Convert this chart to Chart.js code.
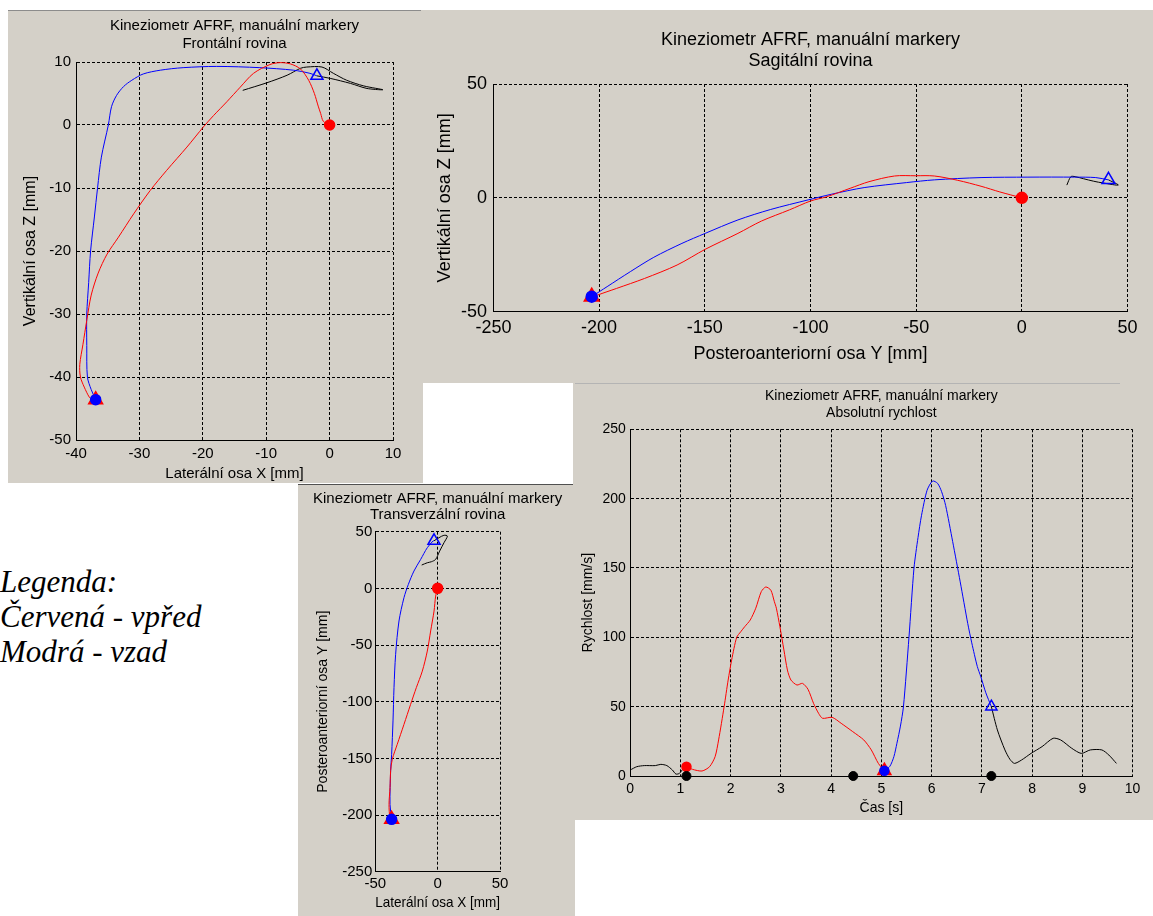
<!DOCTYPE html>
<html><head><meta charset="utf-8">
<script src="https://cdn.jsdelivr.net/npm/chart.js@4.4.0/dist/chart.umd.min.js"></script>
<style>
html,body{margin:0;padding:0;background:#fff;}
body{width:1153px;height:916px;overflow:hidden;position:relative;}
.panel{position:absolute;background:#d4d0c8;}
.panel canvas{position:absolute;left:0;top:0;}
.hline{position:absolute;height:1px;}
#legend{position:absolute;left:0;top:564px;font:italic 31px 'Liberation Serif','Times New Roman',serif;line-height:35px;color:#000;white-space:nowrap;}
</style></head>
<body>
<div class="panel" style="left:8px;top:10px;width:415px;height:473px"><canvas id="c1" width="415" height="473"></canvas></div>
<div class="panel" style="left:420px;top:10px;width:733px;height:373px"><canvas id="c2" width="733" height="373"></canvas></div>
<div class="panel" style="left:573px;top:383px;width:580px;height:437px"><canvas id="c4" width="580" height="437"></canvas></div>
<div class="panel" style="left:298px;top:484px;width:277px;height:432px"><canvas id="c3" width="277" height="432"></canvas></div>
<div class="hline" style="left:8px;top:10px;width:413px;background:#8c8c8c"></div>
<div class="hline" style="left:298px;top:484px;width:275px;background:#505050"></div>
<div class="hline" style="left:575px;top:383px;width:545px;background:#b4b4b4"></div>
<div id="legend">Legenda:<br>Červená - vpřed<br>Modrá - vzad</div>
<script>
// ---------- Frontal plane (X lateral, Z vertical) ----------
const frXTicks = [-40, -30, -20, -10, 0, 10];
const frZTicks = [-50, -40, -30, -20, -10, 0, 10];
const frRedX = [0, -1.0, -1.4, -1.8, -2.4, -3.3, -4.6, -6.2, -7.8, -9.4, -12.0, -14.1, -16.2, -18.3, -19.9, -22.5, -25.7, -28.3, -30.9, -33.3, -35.1, -36.5, -37.6, -38.3, -38.9, -39.4, -39.3, -38.7, -37.9, -37.3];
const frRedZ = [0, 0.6, 1.8, 3.0, 5.0, 7.1, 8.9, 9.7, 9.9, 9.6, 8.2, 6.0, 3.7, 1.5, -0.3, -3.5, -7.2, -10.4, -14.1, -17.8, -20.5, -23.5, -27.0, -31.0, -34.8, -38.0, -40.0, -41.6, -43.2, -43.8];
const frBlueX = [-36.9, -37.6, -38.2, -38.3, -38.3, -38.0, -37.7, -37.1, -36.6, -36.0, -34.9, -34.4, -33.6, -32.5, -31.2, -29.4, -26.7, -23.1, -17.8, -11.0, -5.7, -3.1, -2.0];
const frBlueZ = [-43.6, -42.0, -40.0, -35.0, -30.0, -25.0, -20.0, -14.6, -10.0, -5.1, 0, 2.9, 4.7, 6.1, 7.1, 8.1, 8.7, 9.1, 9.3, 9.1, 8.7, 8.2, 7.8];
const frBlackX = [-2.0, 0.1, 3.3, 5.9, 8.4, 5.4, 2.7, 0.6, -1.2, -3.6, -4.6, -6.7, -9.9, -13.7];
const frBlackZ = [7.8, 7.4, 6.6, 5.8, 5.6, 6.2, 7.1, 8.2, 9.2, 9.2, 9.0, 7.9, 6.7, 5.5];
const frStart = [0, 0], frTurn = [-36.9, -43.6], frEnd = [-2.0, 7.8];

// ---------- Sagittal plane (Y posteroanterior, Z vertical) ----------
const sgYTicks = [-250, -200, -150, -100, -50, 0, 50];
const sgZTicks = [-50, 0, 50];
const sgRedY = [0, -10.4, -19.3, -30.3, -41.4, -50.2, -60.2, -72.3, -81.2, -92.3, -100, -110, -123.2, -134.3, -149.8, -163.1, -178.5, -191.8, -200.7, -204];
const sgRedZ = [0, 2.6, 5.1, 7.7, 9.6, 9.7, 9.6, 7.1, 4.2, 0.5, -1.4, -5.3, -10.2, -15.6, -22.6, -29.5, -35.4, -39.8, -42.7, -44.1];
const sgBlueY = [-203.5, -196.2, -185.2, -174.1, -160.8, -149.8, -134.3, -118.8, -101.1, -90, -74.6, -54.6, -41.4, -19.3, 2.9, 25, 35, 41];
const sgBlueZ = [-43.4, -39, -32.4, -26.1, -20, -15.6, -9.7, -5.1, -0.9, 1.6, 4.5, 6.7, 7.9, 8.9, 9.1, 9.1, 8.9, 7.9];
const sgBlackY = [41, 45.7, 38.6, 34, 29.2, 25.2, 23.2, 21.3];
const sgBlackZ = [7.9, 5.6, 6.5, 7.3, 8.4, 9.3, 9.3, 5.6];
const sgStart = [0, 0], sgTurn = [-203.5, -43.4], sgEnd = [41, 7.9];

// ---------- Transverse plane (X lateral, Y posteroanterior) ----------
const trXTicks = [-50, 0, 50];
const trYTicks = [-250, -200, -150, -100, -50, 0, 50];
const trRedX = [0, -1.6, -2.9, -5.6, -8.3, -12.3, -17.1, -21.7, -27, -32.4, -36.4, -37.7, -38.2, -39, -38.2, -36.4];
const trRedY = [0, -6.8, -20, -37.6, -55.3, -73, -87.6, -102.4, -120, -137.6, -150.9, -161, -175.9, -190.6, -202.4, -203.8];
const trBlueX = [-36.9, -38.2, -37.7, -36.9, -35.8, -35, -33.7, -31, -27, -23.5, -19, -13.6, -8.3, -3.7, -2.9];
const trBlueY = [-203.8, -190.6, -161, -146.5, -117, -87.6, -58.2, -28.8, -8.2, 3.5, 15.3, 25.6, 35.9, 41.8, 42];
const trBlackX = [-2.9, 1.1, 5, 7.8, 5.1, 1.6, -1.6, -5, -8.3, -12.8];
const trBlackY = [42, 44.7, 46.8, 46.2, 40.3, 32.9, 25.6, 23.5, 22.6, 20.6];
const trStart = [0, 0], trTurn = [-36.9, -203.8], trEnd = [-2.9, 42];

// ---------- Absolute speed ----------
const spTTicks = [0, 1, 2, 3, 4, 5, 6, 7, 8, 9, 10];
const spVTicks = [0, 50, 100, 150, 200, 250];
const spPreT = [0, 0.13, 0.28, 0.5, 0.61, 0.73, 0.84, 0.91, 0.98, 1.06, 1.12];
const spPreV = [4.3, 6.7, 7.5, 7.5, 8.4, 7.5, 4.3, 1.4, 1.9, 5.5, 6.7];
const spRedT = [1.12, 1.24, 1.43, 1.58, 1.69, 1.76, 1.87, 1.95, 2.02, 2.12, 2.2, 2.28, 2.39, 2.5, 2.61, 2.7, 2.8, 2.87, 2.91, 2.98, 3.06, 3.13, 3.2, 3.32, 3.43, 3.54, 3.65, 3.75, 3.83, 4.02, 4.2, 4.43, 4.65, 4.8, 4.94, 5.06];
const spRedV = [6.7, 4.8, 3.6, 6.7, 13.9, 26, 50, 69.2, 83.7, 100, 104, 107.7, 112.5, 121, 133, 136.3, 134, 125.7, 121, 107.7, 90.9, 76.4, 69.2, 65.6, 66.8, 62.5, 52.4, 45.2, 41.6, 42.3, 38, 32, 26, 18.8, 9.1, 3.8];
const spBlueT = [5.06, 5.17, 5.25, 5.31, 5.38, 5.44, 5.55, 5.65, 5.73, 5.8, 5.91, 6.02, 6.12, 6.2, 6.28, 6.42, 6.57, 6.72, 6.8, 6.91, 6.98, 7.08, 7.19];
const spBlueV = [3.8, 7, 14, 23.6, 36, 50, 100, 150, 172, 188, 206, 212.7, 211, 205, 195, 169, 140, 110, 96, 79, 71.6, 60, 50];
const spPostT = [7.19, 7.31, 7.46, 7.56, 7.65, 7.79, 7.98, 8.2, 8.42, 8.57, 8.79, 8.98, 9.16, 9.39, 9.53, 9.68];
const spPostV = [50, 33.2, 18.8, 12, 9.1, 11.5, 16.3, 21.2, 27.2, 26, 20, 16.3, 18.8, 18.8, 15.1, 9.1];
const spEventT = [1.12, 4.44, 7.19];
const spEventV = [0, 0, 0];
const spStart = [1.12, 6.7], spTurn = [5.06, 3.8], spEnd = [7.19, 50];

const TITLE1 = 'Kineziometr AFRF, manuální markery';
const FONT = "'Liberation Sans', Arial, Helvetica, sans-serif";
const RED = '#ff0000', BLUE = '#0000ff', BLACK = '#000000';

// widen the title block (centred over the plot) so long titles are not squeezed
const titleWiden = {
  id: 'titleWiden',
  afterLayout(chart) {
    const tb = chart.titleBlock;
    if (!tb) return;
    const c = (chart.chartArea.left + chart.chartArea.right) / 2;
    tb.left = c - 250; tb.right = c + 250; tb.width = 500;
  }
};

function pts(xs, ys) { return xs.map((x, i) => ({x: x, y: ys[i]})); }
function lineDs(xs, ys, color, tension) {
  return {data: pts(xs, ys), showLine: true, borderColor: color, borderWidth: 1, pointRadius: 0,
    pointHoverRadius: 0, tension: tension, fill: false, order: 10};
}
function markDs(p, style, r, fill, stroke, order) {
  return {data: [{x: p[0], y: p[1]}], showLine: false, pointStyle: style, pointRadius: r,
    pointHoverRadius: r, pointBackgroundColor: fill, pointBorderColor: stroke, pointBorderWidth: 1.5,
    order: order, clip: false};
}
function markersFor(start, turn, end, r) {
  return [
    markDs(start, 'circle', r, RED, RED, 1),
    markDs(turn, 'triangle', r + 3, RED, RED, 3),
    markDs(turn, 'circle', r, BLUE, BLUE, 2),
    markDs(end, 'triangle', r + 2, 'rgba(0,0,0,0)', BLUE, 1)
  ];
}
function axis(ticksArr, tickPad, tickSize, title, tSize, tPad, fitFn) {
  return {
    type: 'linear', min: ticksArr[0], max: ticksArr[ticksArr.length - 1],
    afterBuildTicks: s => { s.ticks = ticksArr.map(v => ({value: v})); },
    ticks: {autoSkip: false, maxRotation: 0, minRotation: 0, padding: tickPad, color: '#000',
      font: {family: FONT, size: tickSize}, callback: v => String(v)},
    grid: {color: '#000', lineWidth: 1, drawTicks: false},
    border: {display: true, color: '#000', width: 1, dash: [3, 2]},
    title: {display: true, text: title, color: '#000', font: {family: FONT, size: tSize, lineHeight: 1.2}, padding: tPad},
    afterFit: fitFn
  };
}
function build(id, L) {
  return new Chart(document.getElementById(id), {
    type: 'scatter',
    data: {datasets: L.datasets},
    plugins: [titleWiden],
    options: {
      responsive: false, animation: false, devicePixelRatio: 1, events: [],
      layout: {padding: {left: 0, top: 0, right: L.padR, bottom: 0}},
      plugins: {
        legend: {display: false}, tooltip: {enabled: false},
        title: {display: true, fullSize: false, text: [TITLE1, L.sub], color: '#000',
          font: {family: FONT, size: L.tSize, weight: 'normal', lineHeight: L.tLH},
          padding: {top: L.tPadT, bottom: L.tPadB}}
      },
      scales: {
        x: axis(L.xTicks, L.xTickPad, L.tick, L.xTitle, L.xtSize, {top: 0, bottom: L.xtPadB}, s => { s.height = L.xH; }),
        y: axis(L.yTicks, L.yTickPad, L.tick, L.yTitle, L.ytSize, {top: L.ytPadT, bottom: 0}, s => { s.width = L.yW; })
      }
    }
  });
}

build('c1', {
  sub: 'Frontální rovina', tSize: 15, tLH: 1.2, tPadT: 7, tPadB: 9, padR: 30,
  xTicks: frXTicks, yTicks: frZTicks, tick: 15, xTickPad: 5, yTickPad: 5,
  xTitle: 'Laterální osa X [mm]', xtSize: 15, xtPadB: 0, xH: 43,
  yTitle: 'Vertikální osa Z [mm]', ytSize: 16, ytPadT: 13.4, yW: 68,
  datasets: [lineDs(frRedX, frRedZ, RED, 0.3), lineDs(frBlueX, frBlueZ, BLUE, 0.3), lineDs(frBlackX, frBlackZ, BLACK, 0.3)]
    .concat(markersFor(frStart, frTurn, frEnd, 5))
});
build('c2', {
  sub: 'Sagitální rovina', tSize: 18, tLH: 1.1667, tPadT: 19.5, tPadB: 12.5, padR: 25.5,
  xTicks: sgYTicks, yTicks: sgZTicks, tick: 18, xTickPad: 5.8, yTickPad: 6.5,
  xTitle: 'Posteroanteriorní osa Y [mm]', xtSize: 18, xtPadB: 18.2, xH: 71.3,
  yTitle: 'Vertikální osa Z [mm]', ytSize: 18, ytPadT: 14.2, yW: 73.4,
  datasets: [lineDs(sgRedY, sgRedZ, RED, 0.3), lineDs(sgBlueY, sgBlueZ, BLUE, 0.3), lineDs(sgBlackY, sgBlackZ, BLACK, 0.3)]
    .concat(markersFor(sgStart, sgTurn, sgEnd, 5.5))
});
build('c3', {
  sub: 'Transverzální rovina', tSize: 15, tLH: 1.1, tPadT: 6.25, tPadB: 8.45, padR: 75,
  xTicks: trXTicks, yTicks: trYTicks, tick: 15, xTickPad: 3.3, yTickPad: 3,
  xTitle: 'Laterální osa X [mm]', xtSize: 15, xtPadB: 3.7, xH: 44.3,
  yTitle: 'Posteroanteriorní osa Y [mm]', ytSize: 14, ytPadT: 16.3, yW: 77.3,
  datasets: [lineDs(trRedX, trRedY, RED, 0.3), lineDs(trBlueX, trBlueY, BLUE, 0.3), lineDs(trBlackX, trBlackY, BLACK, 0.3)]
    .concat(markersFor(trStart, trTurn, trEnd, 5))
});
build('c4', {
  sub: 'Absolutní rychlost', tSize: 14, tLH: 1.193, tPadT: 5, tPadB: 7.9, padR: 20.5,
  xTicks: spTTicks, yTicks: spVTicks, tick: 14, xTickPad: 4.3, yTickPad: 4.4,
  xTitle: 'Čas [s]', xtSize: 14, xtPadB: 3.6, xH: 44,
  yTitle: 'Rychlost [mm/s]', ytSize: 14, ytPadT: 7.1, yW: 57.2,
  datasets: [lineDs(spPreT, spPreV, BLACK, 0.25), lineDs(spRedT, spRedV, RED, 0.25), lineDs(spBlueT, spBlueV, BLUE, 0.25), lineDs(spPostT, spPostV, BLACK, 0.25),
    {data: pts(spEventT, spEventV), showLine: false, pointStyle: 'circle', pointRadius: 4.5, pointBackgroundColor: BLACK, pointBorderColor: BLACK, order: 1, clip: false}]
    .concat(markersFor(spStart, spTurn, spEnd, 4.5))
});
</script>
</body></html>
